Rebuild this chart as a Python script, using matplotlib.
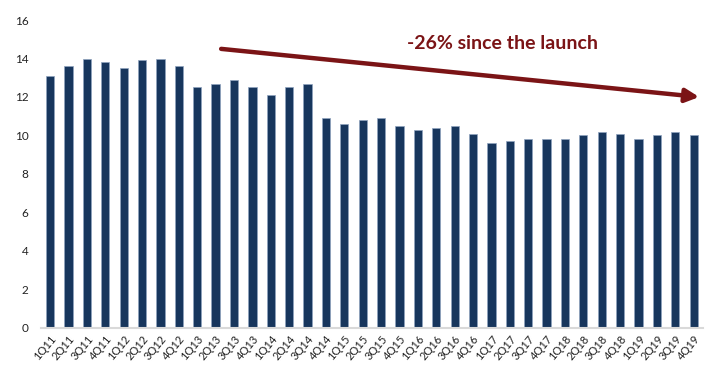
import numpy as np
import matplotlib
matplotlib.use('Agg')
from matplotlib import pyplot as plt

quarters = ['1Q11', '2Q11', '3Q11', '4Q11', '1Q12', '2Q12', '3Q12', '4Q12',
            '1Q13', '2Q13', '3Q13', '4Q13', '1Q14', '2Q14', '3Q14', '4Q14',
            '1Q15', '2Q15', '3Q15', '4Q15', '1Q16', '2Q16', '3Q16', '4Q16',
            '1Q17', '2Q17', '3Q17', '4Q17', '1Q18', '2Q18', '3Q18', '4Q18',
            '1Q19', '2Q19', '3Q19', '4Q19']
values = [13.1, 13.6, 14.0, 13.8, 13.5, 13.9, 14.0, 13.6,
          12.5, 12.7, 12.9, 12.5, 12.1, 12.5, 12.7, 10.9,
          10.6, 10.8, 10.9, 10.5, 10.3, 10.4, 10.5, 10.1,
          9.6, 9.7, 9.8, 9.8, 9.8, 10.0, 10.2, 10.1,
          9.8, 10.0, 10.2, 10.0]
y_ticks = [0, 2, 4, 6, 8, 10, 12, 14, 16]
note = '-26% since the launch'

plt.rcParams['font.family'] = ['Lato', 'DejaVu Sans']

fig = plt.figure(figsize=(7.15, 3.76), dpi=100)
ax = fig.add_axes([0.0573, 0.1277, 0.9257, 0.8191])

x = np.arange(len(quarters))
ax.bar(x, values, width=0.45, color='#17365D', edgecolor='#8FA3BF', linewidth=0.5)

ax.set_xlim(-0.5, len(quarters) - 0.5)
ax.set_ylim(0, 16)
ax.set_yticks(y_ticks)
ax.set_yticklabels([str(t) for t in y_ticks], fontsize=8.5, color='#222222')
ax.set_xticks(x)
ax.set_xticklabels(quarters, rotation=50, ha='right', va='top',
                   rotation_mode='anchor', fontsize=8, color='#222222')
ax.tick_params(length=0, pad=9)
ax.tick_params(axis='x', pad=4)

for s in ['top', 'right', 'left']:
    ax.spines[s].set_visible(False)
ax.spines['bottom'].set_color('#D9D9D9')
ax.spines['bottom'].set_linewidth(1.5)

# trend arrow and note
ax.annotate('', xy=(35.3, 12.0), xytext=(9.3, 14.5), xycoords='data',
            arrowprops=dict(arrowstyle='-|>,head_length=0.8,head_width=0.4',
                            color='#7B1416', lw=3.2, shrinkA=0, shrinkB=0))
ax.text(24.6, 14.8, note, fontsize=14, fontweight='bold', color='#7B1416',
        ha='center', va='center')

fig.savefig('out.png', dpi=100)
